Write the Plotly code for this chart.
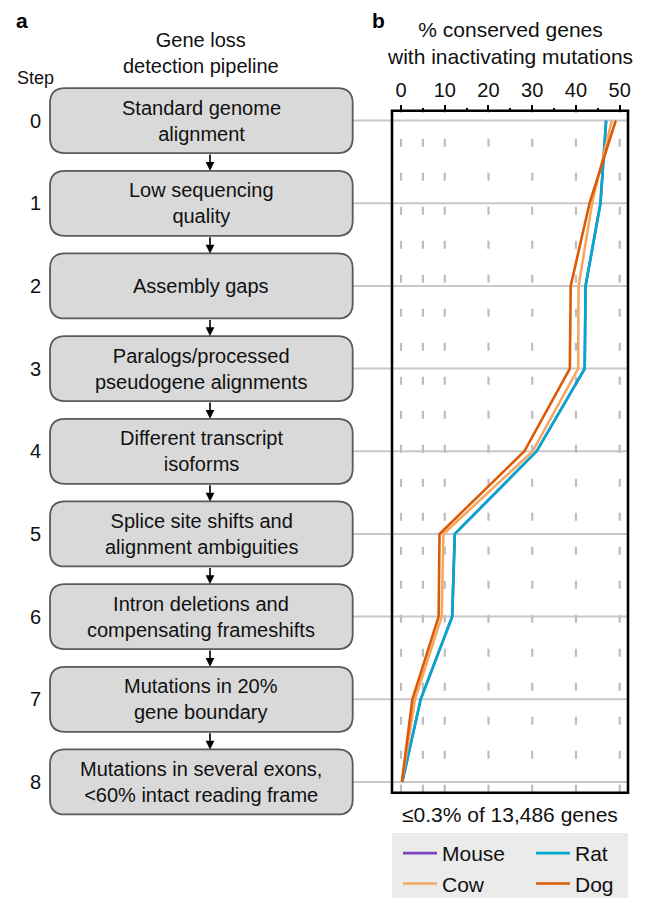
import plotly.graph_objects as go

# ---------------- data ----------------
steps = [0, 1, 2, 3, 4, 5, 6, 7, 8]
step_texts = [
    "Standard genome<br>alignment",
    "Low sequencing<br>quality",
    "Assembly gaps",
    "Paralogs/processed<br>pseudogene alignments",
    "Different transcript<br>isoforms",
    "Splice site shifts and<br>alignment ambiguities",
    "Intron deletions and<br>compensating frameshifts",
    "Mutations in 20%<br>gene boundary",
    "Mutations in several exons,<br>&lt;60% intact reading frame",
]
species = ["Mouse", "Rat", "Cow", "Dog"]
mouse = [46.9, 45.6, 42.2, 42.0, 31.0, 12.3, 11.7, 4.5, 0.3]
rat = [46.9, 45.6, 42.2, 42.0, 31.0, 12.3, 11.7, 4.5, 0.3]
cow = [48.2, 43.7, 40.6, 40.5, 30.1, 9.7, 9.3, 3.2, 0.2]
dog = [49.1, 43.1, 38.8, 38.6, 28.2, 8.8, 8.6, 2.6, 0.2]
series = [mouse, rat, cow, dog]
colors = ["#7E45BF", "#00A9D0", "#F4A862", "#DC5A06"]
grid_x = [0, 5, 10, 20, 30, 40, 50]

# ---------------- geometry (screen pixels; page has an 8px body margin) ----------------
OFF = 8
W, H = 640, 890
ML = 340
PW = W - ML
FRAME_L, FRAME_R, FRAME_T, FRAME_B = 392, 628, 110.7, 792.7
Y_TOP, Y_BOT = -0.12, 8.13
X_RANGE = [-2.06, 51.9]
pps = (FRAME_B - FRAME_T) / (Y_BOT - Y_TOP)
yr_top = Y_TOP - (FRAME_T - OFF) / pps
yr_bot = Y_BOT + (H - (FRAME_B - OFF)) / pps

BOX_L, BOX_R, BOX_HALF, RAD = 50, 352.7, 32.5, 15
FONT = "Liberation Sans, Arial, Helvetica, sans-serif"
TXT = "#111111"


def px(x):
    return (x - OFF - ML) / PW


def py(y):
    return 1 - (y - OFF) / H


fig = go.Figure()
for name, vals, col in zip(species, series, colors):
    fig.add_trace(go.Scatter(x=vals, y=steps, mode="lines", name=name,
                             line=dict(color=col, width=2.6), hoverinfo="skip"))

shapes = []
# vertical dashed grid
for gx in grid_x:
    shapes.append(dict(type="line", xref="x", yref="y", x0=gx, x1=gx, y0=Y_BOT, y1=Y_TOP,
                       line=dict(color="#BDBDBD", width=2.2, dash="8px,26px"), layer="below"))
# horizontal step lines
for s in steps:
    shapes.append(dict(type="line", xref="paper", yref="y", x0=px(BOX_R), x1=px(FRAME_R), y0=s, y1=s,
                       line=dict(color="#C8C8C8", width=2), layer="below"))
# flowchart boxes
bl, br, h, r = BOX_L, BOX_R, BOX_HALF, RAD
box_path = (f"M {bl + r},{-h} L {br - r},{-h} Q {br},{-h} {br},{-h + r} L {br},{h - r} "
            f"Q {br},{h} {br - r},{h} L {bl + r},{h} Q {bl},{h} {bl},{h - r} L {bl},{-h + r} "
            f"Q {bl},{-h} {bl + r},{-h} Z")
for s in steps:
    shapes.append(dict(type="path", xref="paper", yref="y", xsizemode="pixel", ysizemode="pixel",
                       xanchor=px(0), yanchor=s, path=box_path, fillcolor="#D9D9D9",
                       line=dict(color="#5A5A5A", width=1.8), layer="above"))
# frame
shapes.append(dict(type="rect", xref="x domain", yref="y", x0=0, x1=1, y0=Y_TOP, y1=Y_BOT,
                   line=dict(color="black", width=2.6), fillcolor="rgba(0,0,0,0)", layer="above"))
# legend background
shapes.append(dict(type="rect", xref="paper", yref="paper", x0=px(FRAME_L), x1=px(FRAME_R),
                   y0=py(H + OFF + 5), y1=py(833), line=dict(width=0), fillcolor="#EBEBEB",
                   layer="below"))

ann = []
for s, t in zip(steps, step_texts):
    ann.append(dict(xref="paper", yref="y", x=px((BOX_L + BOX_R) / 2), y=s, text=t, showarrow=False,
                    font=dict(size=20, color=TXT), xanchor="center", yanchor="middle"))
    ann.append(dict(xref="paper", yref="y", x=px(35), y=s, text=str(s), showarrow=False,
                    font=dict(size=20, color=TXT), xanchor="center", yanchor="middle"))
for s in steps[:-1]:
    ann.append(dict(xref="paper", yref="y", x=px(210), y=s + 1, yshift=BOX_HALF, text="",
                    showarrow=True, ax=0, ay=-(pps - 2 * BOX_HALF), arrowhead=2, arrowsize=1.1,
                    arrowwidth=1.6, arrowcolor="black", standoff=0))
ann += [
    dict(xref="paper", yref="paper", x=px(22), y=py(20), text="<b>a</b>", showarrow=False,
         font=dict(size=21, color="black"), xanchor="center", yanchor="middle"),
    dict(xref="paper", yref="paper", x=px(378), y=py(20), text="<b>b</b>", showarrow=False,
         font=dict(size=21, color="black"), xanchor="center", yanchor="middle"),
    dict(xref="paper", yref="paper", x=px(201), y=py(53), text="Gene loss<br>detection pipeline",
         showarrow=False, font=dict(size=20, color=TXT), xanchor="center", yanchor="middle"),
    dict(xref="paper", yref="paper", x=px(35), y=py(78), text="Step", showarrow=False,
         font=dict(size=18, color=TXT), xanchor="center", yanchor="middle"),
    dict(xref="paper", yref="paper", x=px((FRAME_L + FRAME_R) / 2), y=py(43),
         text="% conserved genes<br>with inactivating mutations", showarrow=False,
         font=dict(size=21, color=TXT), xanchor="center", yanchor="middle"),
    dict(xref="paper", yref="paper", x=px((FRAME_L + FRAME_R) / 2), y=py(814),
         text="≤0.3% of 13,486 genes", showarrow=False,
         font=dict(size=21, color=TXT), xanchor="center", yanchor="middle"),
]

fig.update_layout(
    width=W, height=H,
    margin=dict(l=ML, r=0, t=0, b=0, autoexpand=False),
    paper_bgcolor="white", plot_bgcolor="rgba(0,0,0,0)",
    font=dict(family=FONT, size=20, color=TXT),
    xaxis=dict(domain=[px(FRAME_L), px(FRAME_R)], range=X_RANGE, side="top", anchor="free",
               position=py(FRAME_T), showgrid=False, zeroline=False, showline=False,
               tick0=0, dtick=10, ticks="outside", ticklen=6, tickwidth=2, tickcolor="black",
               tickfont=dict(size=20, color=TXT), automargin=False,
               minor=dict(tick0=0, dtick=5, ticks="outside", ticklen=3, tickwidth=1.6,
                          tickcolor="black", showgrid=False)),
    yaxis=dict(domain=[0, 1], range=[yr_bot, yr_top], visible=False),
    showlegend=True,
    legend=dict(orientation="h", x=px(FRAME_L + 6), y=py(833), xanchor="left", yanchor="top",
                bgcolor="rgba(0,0,0,0)", font=dict(size=21, color=TXT),
                entrywidth=84, entrywidthmode="pixels", itemwidth=34, traceorder="normal"),
    shapes=shapes, annotations=ann,
)

fig.write_html("out.html")
